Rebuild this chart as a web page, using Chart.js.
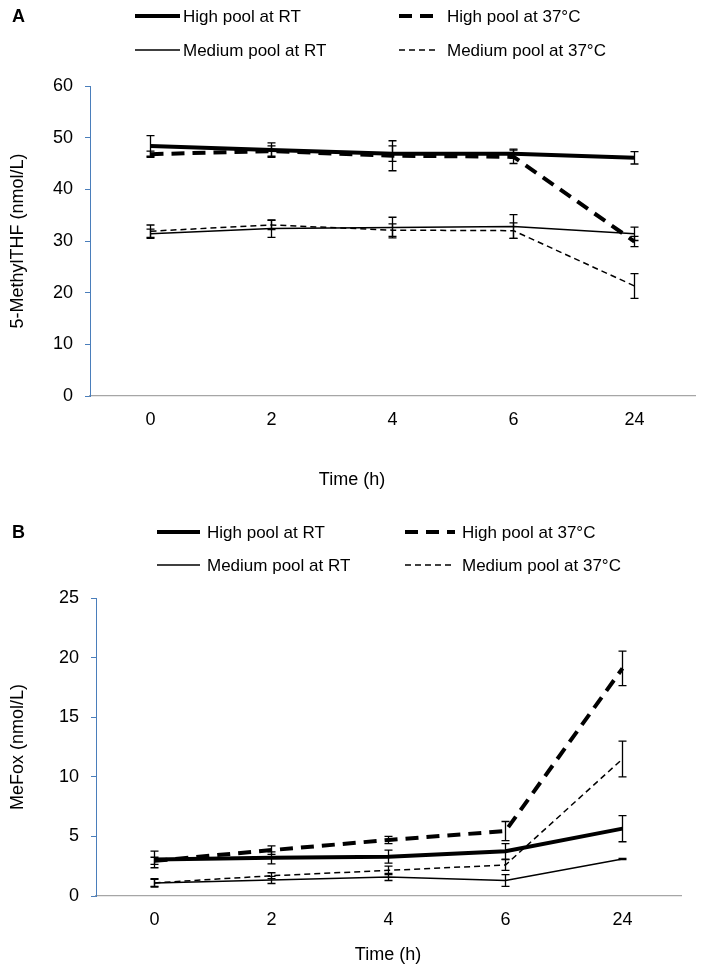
<!DOCTYPE html>
<html>
<head>
<meta charset="utf-8">
<script src="https://cdn.jsdelivr.net/npm/chart.js@4/dist/chart.umd.min.js"></script>
<style>
  body { margin: 0; background: #fff; }
  .box { position: absolute; left: 0; width: 704px; }
</style>
</head>
<body>
<div class="box" style="top:0;height:500px"><canvas id="chartA" width="704" height="500"></canvas></div>
<div class="box" style="top:500px;height:475px"><canvas id="chartB" width="704" height="475"></canvas></div>
<script>
// time points (h)
const horas = ["0", "2", "4", "6", "24"];
const nombres = ["High pool at RT", "High pool at 37°C", "Medium pool at RT", "Medium pool at 37°C"];

// panel A: 5-MethylTHF (nmol/L)
const altoRT_A = [48.4, 47.6, 46.9, 46.9, 46.1];
const altoRT_A_err = [2.0, 1.4, 1.5, 0.9, 1.2];
const alto37_A = [46.8, 47.4, 46.5, 46.3, 29.9];
const alto37_A_err = [0.6, 1.0, 2.9, 1.3, 1.0];
const medioRT_A = [31.4, 32.4, 32.6, 32.8, 31.4];
const medioRT_A_err = [0.9, 1.7, 2.0, 2.3, 1.3];
const medio37_A = [31.9, 33.1, 32.1, 32.0, 21.3];
const medio37_A_err = [1.2, 0.9, 1.2, 1.5, 2.4];
const ticksA = [0, 10, 20, 30, 40, 50, 60];

// panel B: MeFox (nmol/L)
const altoRT_B = [3.07, 3.2, 3.3, 3.75, 5.65];
const altoRT_B_err = [0.7, 0.5, 0.55, 0.65, 1.1];
const alto37_B = [2.95, 3.85, 4.7, 5.45, 19.1];
const alto37_B_err = [0.3, 0.35, 0.3, 0.8, 1.45];
const medioRT_B = [1.1, 1.35, 1.6, 1.3, 3.1];
const medioRT_B_err = [0.35, 0.3, 0.3, 0.5, 0.05];
const medio37_B = [1.1, 1.7, 2.15, 2.6, 11.5];
const medio37_B_err = [0.3, 0.25, 0.35, 0.45, 1.5];
const ticksB = [0, 5, 10, 15, 20, 25];

const fuente = "'Liberation Sans', Arial, sans-serif";
Chart.defaults.font.family = fuente;
Chart.defaults.color = "#000";

// error bars drawn with the chart's own scales
const barrasError = {
  id: "barrasError",
  afterDatasetsDraw(chart) {
    const ctx = chart.ctx;
    const y = chart.scales.y;
    ctx.save();
    ctx.strokeStyle = "#000";
    ctx.lineWidth = 1.3;
    ctx.setLineDash([]);
    chart.data.datasets.forEach((ds, i) => {
      const meta = chart.getDatasetMeta(i);
      meta.data.forEach((p, j) => {
        const e = ds.errores[j];
        const v = ds.data[j];
        const y1 = y.getPixelForValue(v + e);
        const y2 = y.getPixelForValue(v - e);
        ctx.beginPath();
        ctx.moveTo(p.x, y1); ctx.lineTo(p.x, y2);
        ctx.moveTo(p.x - 4, y1); ctx.lineTo(p.x + 4, y1);
        ctx.moveTo(p.x - 4, y2); ctx.lineTo(p.x + 4, y2);
        ctx.stroke();
      });
    });
    ctx.restore();
  },
};

// legend in two columns, panel letter and x title
const leyenda = {
  id: "leyenda",
  afterDraw(chart, args, opts) {
    const ctx = chart.ctx;
    ctx.save();
    ctx.fillStyle = "#000";
    ctx.font = "bold 18px " + fuente;
    ctx.textBaseline = "middle";
    ctx.fillText(opts.letra, 12, opts.filas[0] + 1);
    chart.data.datasets.forEach((ds, i) => {
      const col = i % 2, fila = Math.floor(i / 2);
      const x = opts.muestraX[col], yy = opts.filas[fila];
      ctx.strokeStyle = "#000";
      ctx.lineWidth = ds.borderWidth;
      ctx.setLineDash(ds.borderDash || []);
      ctx.beginPath();
      ctx.moveTo(x, yy);
      ctx.lineTo(x + opts.muestraW[col], yy);
      ctx.stroke();
      ctx.setLineDash([]);
      ctx.font = "17px " + fuente;
      ctx.fillText(ds.label, opts.textoX[col], yy + 1);
    });
    ctx.font = "18px " + fuente;
    ctx.textAlign = "center";
    ctx.fillText("Time (h)", opts.tituloX[0], opts.tituloX[1]);
    ctx.restore();
  },
};

function series(a, b, c, d, ea, eb, ec, ed) {
  return [
    { label: nombres[0], data: a, errores: ea, borderWidth: 4, borderDash: [] },
    { label: nombres[1], data: b, errores: eb, borderWidth: 4, borderDash: [13, 8] },
    { label: nombres[2], data: c, errores: ec, borderWidth: 1.5, borderDash: [] },
    { label: nombres[3], data: d, errores: ed, borderWidth: 1.5, borderDash: [6, 4] },
  ].map(s => Object.assign(s, { borderColor: "#000", backgroundColor: "#000", pointRadius: 0, tension: 0, fill: false }));
}

function opciones(cfg) {
  return {
    responsive: false,
    animation: false,
    layout: { padding: { top: cfg.arriba, right: cfg.derecha, left: 0, bottom: 0 } },
    plugins: { legend: { display: false }, tooltip: { enabled: false }, leyenda: cfg.leyenda },
    scales: {
      x: {
        offset: true,
        grid: { display: false, drawTicks: false },
        border: { color: "#a6a6a6", width: 1.3 },
        ticks: { font: { size: 18 }, padding: 13 },
        afterFit: s => { s.height = cfg.altoX; },
      },
      y: {
        min: 0,
        max: cfg.ticks[cfg.ticks.length - 1],
        afterBuildTicks: s => { s.ticks = cfg.ticks.map(v => ({ value: v })); },
        grid: { drawOnChartArea: false, color: "#4a7ebb", tickLength: 5 },
        border: { color: "#4a7ebb", width: 1 },
        ticks: { font: { size: 18 }, padding: 12 },
        title: { display: true, text: cfg.tituloY, font: { size: 18 }, padding: { top: 7, bottom: 0 } },
        afterFit: s => { s.width = cfg.anchoY; },
      },
    },
  };
}

new Chart(document.getElementById("chartA").getContext("2d"), {
  type: "line",
  data: { labels: horas, datasets: series(altoRT_A, alto37_A, medioRT_A, medio37_A, altoRT_A_err, alto37_A_err, medioRT_A_err, medio37_A_err) },
  options: opciones({
    arriba: 86, derecha: 9, altoX: 104, anchoY: 90, ticks: ticksA,
    tituloY: "5-MethylTHF (nmol/L)",
    leyenda: { letra: "A", filas: [16, 50], muestraX: [135, 399], muestraW: [45, 38], textoX: [183, 447], tituloX: [352, 480] },
  }),
  plugins: [barrasError, leyenda],
});

new Chart(document.getElementById("chartB").getContext("2d"), {
  type: "line",
  data: { labels: horas, datasets: series(altoRT_B, alto37_B, medioRT_B, medio37_B, altoRT_B_err, alto37_B_err, medioRT_B_err, medio37_B_err) },
  options: opciones({
    arriba: 98, derecha: 23, altoX: 79, anchoY: 96, ticks: ticksB,
    tituloY: "MeFox (nmol/L)",
    leyenda: { letra: "B", filas: [32, 65], muestraX: [157, 405], muestraW: [43, 50], textoX: [207, 462], tituloX: [388, 455] },
  }),
  plugins: [barrasError, leyenda],
});
</script>
</body>
</html>
